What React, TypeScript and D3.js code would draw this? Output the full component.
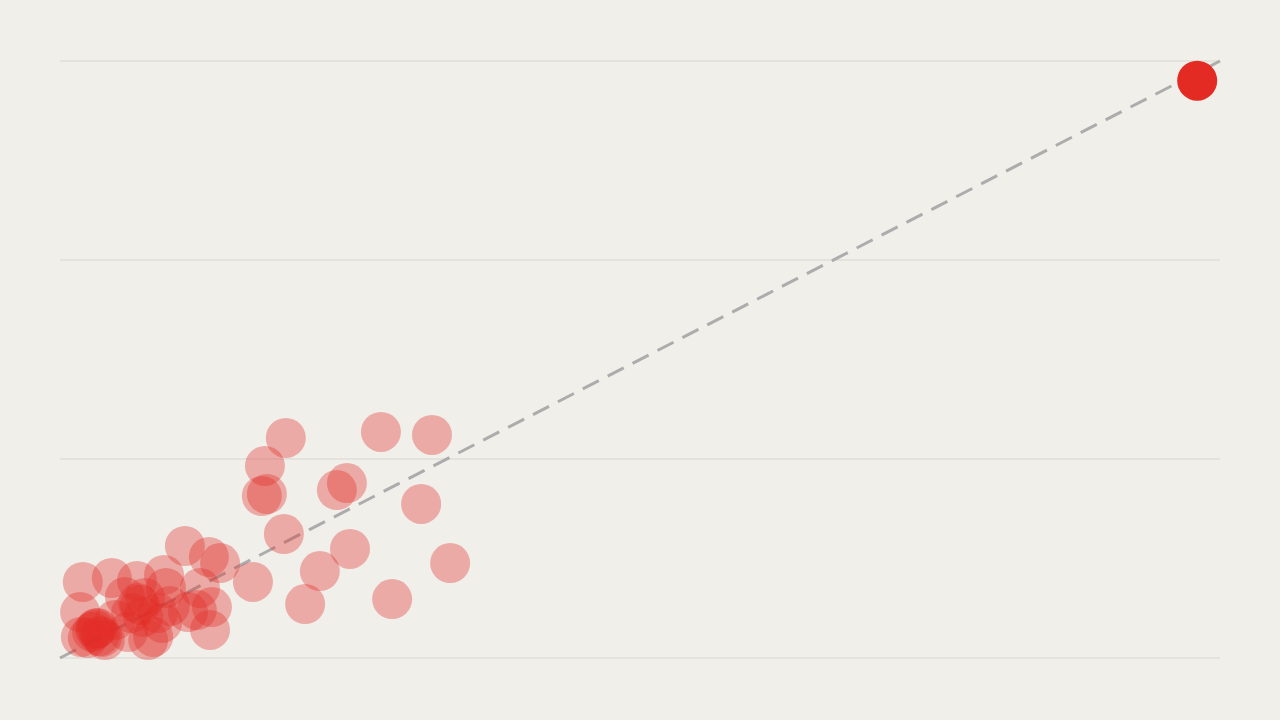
import { useEffect, useRef } from "react";
import * as d3 from "d3";

// Values (both axes share the same 0–30 scale).
const xValues = [
  5.84, 8.3, 9.62, 5.3, 5.22, 5.35, 7.16, 7.42, 9.34, 5.79, 7.5, 6.72, 10.09, 4.99,
  6.34, 8.59, 3.23, 3.85, 4.14, 0.59, 1.34, 1.99, 2.69, 2.74, 3.62, 3.93, 3.54, 3.88,
  0.52, 1.68, 2.02, 1.84, 2.53, 2.84, 2.64, 2.41, 2.28, 2.15, 0.91, 0.72, 1.16, 0.54,
  1.03, 1.76, 1.42, 2.2, 3.31, 0.93, 0.83, 1.09, 0.98, 2.07,
];
const yValues = [
  11.06, 11.36, 11.21, 9.65, 8.14, 8.24, 8.44, 8.79, 7.74, 6.23, 5.48, 4.37, 4.77, 3.82,
  2.71, 2.96, 5.63, 5.08, 4.77, 3.82, 4.02, 3.87, 4.17, 3.52, 3.52, 2.56, 2.41, 1.41,
  2.31, 3.07, 2.76, 2.26, 2.26, 2.61, 1.76, 1.06, 0.9, 2.06, 1.41, 1.01, 0.9, 1.06,
  1.11, 1.31, 1.91, 3.02, 2.31, 1.5, 1.31, 1.06, 1.51, 2.66,
];
const highlight = { x: 29.41, y: 29.01 };
const gridTicks = [0, 10, 20, 30];

const W = 1280;
const H = 720;
const M = { top: 61, right: 60, bottom: 62, left: 60 };

export default function App() {
  const ref = useRef<SVGSVGElement | null>(null);

  useEffect(() => {
    const svg = d3.select(ref.current);
    svg.selectAll("*").remove();

    const x = d3.scaleLinear().domain([0, 30]).range([M.left, W - M.right]);
    const y = d3.scaleLinear().domain([0, 30]).range([H - M.bottom, M.top]);

    svg.append("rect").attr("width", W).attr("height", H).attr("fill", "#f0efea");

    // horizontal gridlines
    svg
      .append("g")
      .selectAll("line")
      .data(gridTicks)
      .join("line")
      .attr("x1", x(0))
      .attr("x2", x(30))
      .attr("y1", (d) => y(d))
      .attr("y2", (d) => y(d))
      .attr("stroke", "#d6d5d0")
      .attr("stroke-width", 1.2);

    // equality line
    svg
      .append("line")
      .attr("x1", x(0))
      .attr("y1", y(0))
      .attr("x2", x(30))
      .attr("y2", y(30))
      .attr("stroke", "#acacac")
      .attr("stroke-width", 3)
      .attr("stroke-dasharray", "18 10");

    const pts = xValues.map((v, i) => ({ x: v, y: yValues[i] }));
    svg
      .append("g")
      .selectAll("circle")
      .data(pts)
      .join("circle")
      .attr("cx", (d) => x(d.x))
      .attr("cy", (d) => y(d.y))
      .attr("r", 20)
      .attr("fill", "#e32b24")
      .attr("fill-opacity", 0.35);

    svg
      .append("circle")
      .attr("cx", x(highlight.x))
      .attr("cy", y(highlight.y))
      .attr("r", 20)
      .attr("fill", "#e32b24");
  }, []);

  return (
    <svg
      ref={ref}
      width={W}
      height={H}
      style={{ position: "fixed", top: 0, left: 0, display: "block" }}
    />
  );
}
